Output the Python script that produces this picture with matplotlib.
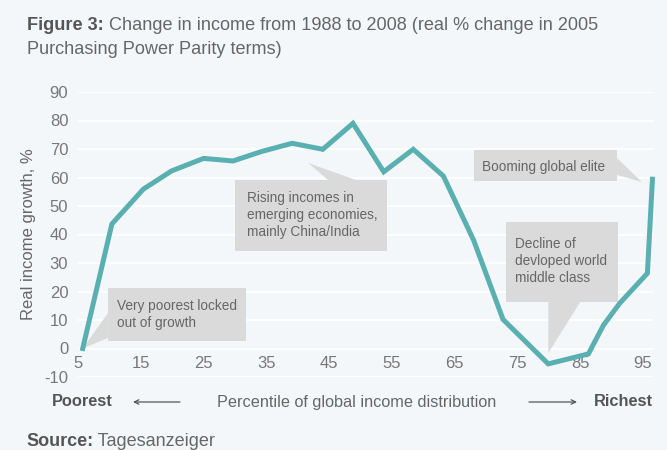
import matplotlib
matplotlib.use("Agg")
import matplotlib.pyplot as plt
from matplotlib.patches import Polygon

plt.rcParams['font.family'] = ['Liberation Sans', 'DejaVu Sans']

# global income percentile vs. real income growth 1988-2008 (%)
percentile = [5.75, 10.4, 15.4, 19.9, 25.0, 29.7, 34.2, 39.1, 44.0, 48.8,
              53.7, 58.4, 63.2, 68.0, 72.7, 79.9, 86.3, 88.7, 91.3, 95.7, 96.5]
growth = [0, 43.7, 55.9, 62.3, 66.7, 65.8, 69.1, 72.0, 69.9, 79.0,
          62.0, 69.9, 60.5, 38.1, 10.2, -5.4, -1.9, 8.2, 15.9, 26.4, 59.4]

xticks = [5, 15, 25, 35, 45, 55, 65, 75, 85, 95]
yticks = [-10, 0, 10, 20, 30, 40, 50, 60, 70, 80, 90]

callout_text = [
    "Very poorest locked\nout of growth",
    "Rising incomes in\nemerging economies,\nmainly China/India",
    "Booming global elite",
    "Decline of\ndevloped world\nmiddle class",
]

BG = '#f4f7f9'
TEAL = '#5ab0b1'
BOX = '#dadada'
GREY = '#666666'
DARK = '#555555'

W, H = 667, 450
fig = plt.figure(figsize=(W / 100, H / 100), dpi=100, facecolor=BG)
ax = fig.add_axes([78 / W, 1 - 377 / H, 575 / W, 285 / H])
ax.set_facecolor(BG)

ax.set_xlim(5.32, 96.59)
ax.set_ylim(-10, 90)
for s in ax.spines.values():
    s.set_visible(False)

ax.set_yticks(yticks)
ax.set_yticklabels([str(v) for v in yticks])
ax.set_xticks(xticks)
ax.set_xticklabels([str(v) for v in xticks])
ax.tick_params(axis='y', length=0, pad=7, labelsize=12, labelcolor='#777777')
ax.tick_params(axis='x', length=0, pad=-15, labelsize=12, labelcolor='#777777')
ax.yaxis.grid(True, color='white', lw=1.3)
ax.set_axisbelow(True)

ax.set_ylabel("Real income growth, %", fontsize=12, color=GREY, labelpad=6)


def callout(rect, wedge, text, tx, ty):
    x0, x1, y0, y1 = rect
    ax.add_patch(Polygon([(x0, y0), (x1, y0), (x1, y1), (x0, y1)],
                         closed=True, fc=BOX, ec='none', zorder=2))
    ax.add_patch(Polygon(wedge, closed=True, fc=BOX, ec='none', zorder=2))
    ax.text(tx, ty, text, fontsize=9.8, color=GREY, ha='left', va='center',
            linespacing=1.25, zorder=3)


callout((9.76, 31.83, 2.6, 21.2),
        [(9.76, 12.4), (9.76, 3.7), (percentile[0], growth[0])],
        callout_text[0], 11.2, 12.0)
callout((30.08, 54.21, 34.2, 59.1),
        [(41.67, 65.1), (44.84, 59.1), (49.29, 59.1)],
        callout_text[1], 31.98, 46.8)
callout((68.02, 90.87, 58.6, 69.6),
        [(90.87, 66.8), (90.87, 60.9), (94.84, 58.4)],
        callout_text[2], 69.29, 63.7)
callout((73.25, 91.03, 16.3, 44.4),
        [(79.92, 16.3), (85.0, 16.3), (79.92, -1.6)],
        callout_text[3], 74.68, 30.7)

ax.plot(percentile, growth, color=TEAL, lw=3.6, solid_joinstyle='miter',
        zorder=4, clip_on=False)

# title: bold lead-in followed by regular text
t1 = fig.text(27 / W, 1 - 25 / H, "Figure 3:", fontsize=13.1,
              fontweight='bold', color=DARK, ha='left', va='center')
ax.annotate(" Change in income from 1988 to 2008 (real % change in 2005",
            xy=(1, 0), xycoords=t1, fontsize=13.1, color=GREY,
            ha='left', va='bottom', annotation_clip=False)
fig.text(27 / W, 1 - 49 / H, "Purchasing Power Parity terms)",
         fontsize=13.1, color=GREY, ha='left', va='center')

# x-axis caption row
yb = 1 - 402 / H
fig.text(52 / W, yb, "Poorest", fontsize=11.8, fontweight='bold',
         color=DARK, ha='left', va='center')
fig.text(217 / W, yb, "Percentile of global income distribution",
         fontsize=11.7, color=GREY, ha='left', va='center')
fig.text(594 / W, yb, "Richest", fontsize=11.8, fontweight='bold',
         color=DARK, ha='left', va='center')
arrow = dict(arrowstyle='->', color=DARK, lw=0.9, shrinkA=0, shrinkB=0,
             mutation_scale=8)
ax.annotate('', xy=(133 / W, yb), xytext=(180 / W, yb),
            xycoords='figure fraction', arrowprops=arrow)
ax.annotate('', xy=(577 / W, yb), xytext=(529 / W, yb),
            xycoords='figure fraction', arrowprops=arrow)

s1 = fig.text(26 / W, 1 - 442 / H, "Source:", fontsize=13, fontweight='bold',
              color=DARK, ha='left', va='center')
ax.annotate(" Tagesanzeiger", xy=(1, 0), xycoords=s1, fontsize=13,
            color=GREY, ha='left', va='bottom', annotation_clip=False)

fig.savefig("out.png", dpi=100, facecolor=BG)
